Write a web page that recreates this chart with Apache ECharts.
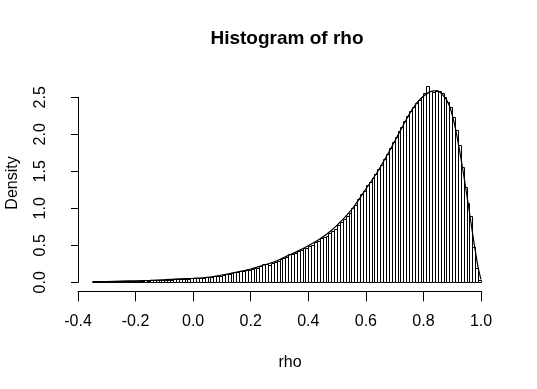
<!DOCTYPE html>
<html>
<head>
<meta charset="utf-8">
<script src="https://cdn.jsdelivr.net/npm/echarts@6/dist/echarts.min.js"></script>
<style>
html,body{margin:0;padding:0;background:#fff;}
#c{width:537px;height:389px;}
</style>
</head>
<body>
<div id="c"></div>
<script>
// Histogram breaks (R-style): first break and bin width
var binStart = -0.35;
var binWidth = 0.01;
// Bar densities, one per bin from -0.35 to 1.00
var densities = [
  0.008,0.010,0.010,0.012,0.010,0.012,0.014,0.012,0.015,0.016,
  0.018,0.016,0.020,0.018,0.022,0.020,0.024,0.022,0.026,0.024,
  0.028,0.026,0.030,0.032,0.030,0.034,0.036,0.034,0.040,0.042,
  0.044,0.046,0.042,0.050,0.052,0.056,0.054,0.060,0.062,0.066,
  0.070,0.074,0.080,0.085,0.090,0.100,0.108,0.115,0.122,0.135,
  0.140,0.148,0.155,0.165,0.172,0.180,0.190,0.200,0.215,0.245,
  0.245,0.235,0.255,0.270,0.290,0.310,0.330,0.345,0.385,0.385,
  0.400,0.420,0.435,0.460,0.470,0.490,0.510,0.545,0.560,0.600,
  0.610,0.630,0.665,0.700,0.720,0.770,0.810,0.850,0.890,0.940,
  1.000,1.050,1.120,1.200,1.240,1.320,1.360,1.410,1.470,1.530,
  1.590,1.660,1.740,1.820,1.890,1.960,2.040,2.100,2.180,2.250,
  2.310,2.370,2.420,2.470,2.510,2.560,2.650,2.580,2.570,2.590,
  2.580,2.560,2.510,2.440,2.370,2.240,2.060,1.860,1.560,1.290,
  1.070,0.890,0.480,0.190,0.030
];
// Density curve
var curveX = [-0.35,-0.30,-0.25,-0.20,-0.15,-0.10,-0.05,0.00,0.04,0.08,0.12,0.16,0.20,0.24,0.28,0.32,0.36,0.40,0.44,0.48,0.52,0.56,0.60,0.64,0.68,0.72,0.76,0.79,0.82,0.845,0.87,0.89,0.91,0.93,0.95,0.97,0.99,1.00];
var curveY = [0.008,0.011,0.016,0.021,0.027,0.035,0.045,0.055,0.065,0.085,0.112,0.145,0.180,0.225,0.275,0.345,0.415,0.495,0.585,0.700,0.850,1.030,1.260,1.490,1.760,2.050,2.330,2.480,2.570,2.590,2.520,2.390,2.100,1.680,1.200,0.680,0.200,0.040];
var xTicks = ['-0.4','-0.2','0.0','0.2','0.4','0.6','0.8','1.0'];
var yTicks = ['0.0','0.5','1.0','1.5','2.0','2.5'];
var titleText = 'Histogram of rho';
var xName = 'rho';
var yName = 'Density';

var histData = densities.map(function(d, i){
  var left = +(binStart + i * binWidth).toFixed(4);
  return [left, +(left + binWidth).toFixed(4), d];
});
var curveData = curveX.map(function(x, i){ return [x, curveY[i]]; });

var FONT = '"Liberation Sans", Arial, sans-serif';
var chart = echarts.init(document.getElementById('c'), null, {renderer: 'canvas'});
chart.setOption({
  backgroundColor: '#ffffff',
  animation: false,
  grid: {left: 78, right: 56, top: 97.3, bottom: 106.7},
  xAxis: {
    type: 'value', min: -0.4, max: 1.0, interval: 0.2, offset: 9,
    axisLine: {show: true, onZero: false, lineStyle: {color: '#000', width: 1}},
    axisTick: {show: true, length: 10, lineStyle: {color: '#000', width: 1}},
    axisLabel: {color: '#000', fontSize: 16, fontFamily: FONT, margin: 22,
      formatter: function(v){ var i = Math.round((v + 0.4) / 0.2); return xTicks[i] || ''; }},
    splitLine: {show: false}
  },
  yAxis: {
    type: 'value', min: 0, max: 2.5, interval: 0.5,
    axisLine: {show: true, onZero: false, lineStyle: {color: '#000', width: 1}},
    axisTick: {show: true, length: 7, lineStyle: {color: '#000', width: 1}},
    axisLabel: {color: '#000', fontSize: 16, fontFamily: FONT, rotate: 90, margin: 29,
      formatter: function(v){ var i = Math.round(v / 0.5); return yTicks[i] || ''; }},
    splitLine: {show: false}
  },
  series: [
    {
      type: 'custom',
      clip: false,
      data: histData,
      encode: {x: [0, 1], y: 2},
      renderItem: function(params, api){
        var p0 = api.coord([api.value(0), 0]);
        var p1 = api.coord([api.value(1), api.value(2)]);
        var x0 = Math.round(p0[0]) + 0.5, x1 = Math.round(p1[0]) + 0.5;
        var yb = Math.round(p0[1]) + 0.5, yt = Math.round(p1[1]) + 0.5;
        return {
          type: 'rect',
          shape: {x: x0, y: yt, width: x1 - x0, height: yb - yt},
          style: {fill: '#fff', stroke: '#000', lineWidth: 1}
        };
      },
      z: 2
    },
    {
      type: 'line',
      data: curveData,
      smooth: 0.3,
      showSymbol: false,
      clip: false,
      lineStyle: {color: '#000', width: 1.2},
      z: 3
    }
  ],
  graphic: [
    {type: 'text', x: 287, y: 39, style: {text: titleText, font: 'bold 19px ' + FONT, fill: '#000', textAlign: 'center', textVerticalAlign: 'middle'}},
    {type: 'text', x: 290, y: 363, style: {text: xName, font: '16px ' + FONT, fill: '#000', textAlign: 'center', textVerticalAlign: 'middle'}},
    {type: 'text', x: 13, y: 183, rotation: Math.PI / 2, style: {text: yName, font: '16px ' + FONT, fill: '#000', textAlign: 'center', textVerticalAlign: 'middle'}}
  ]
});
</script>
</body>
</html>
